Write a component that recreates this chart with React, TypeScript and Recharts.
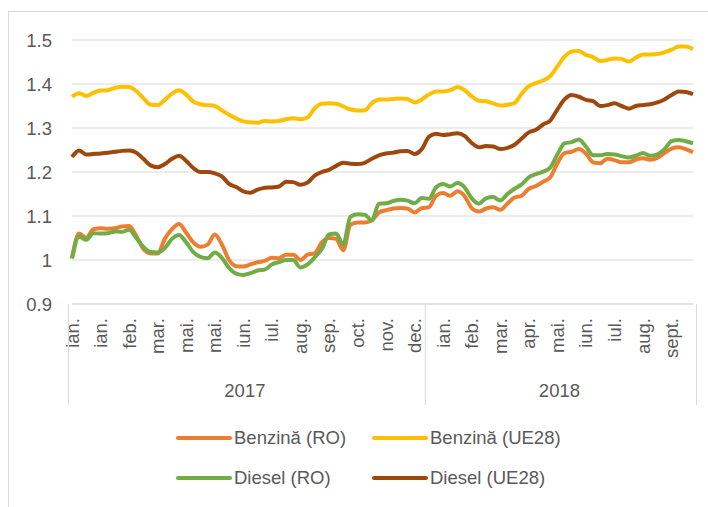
import React from 'react';
import { LineChart, Line, XAxis, YAxis, CartesianGrid, Legend } from 'recharts';

// ---------- data ----------
const months: string[] = [
  // 2017 (50 weeks)
  'ian.', 'ian.', 'ian.', 'ian.', 'ian.', 'ian.', 'ian.', 'ian.',
  'feb.', 'feb.', 'feb.', 'feb.',
  'mar.', 'mar.', 'mar.', 'mar.',
  'mai.', 'mai.', 'mai.', 'mai.', 'mai.', 'mai.', 'mai.', 'mai.',
  'iun.', 'iun.', 'iun.', 'iun.',
  'iul.', 'iul.', 'iul.', 'iul.',
  'aug.', 'aug.', 'aug.', 'aug.',
  'sep.', 'sep.', 'sep.', 'sep.',
  'oct.', 'oct.', 'oct.', 'oct.',
  'nov.', 'nov.', 'nov.', 'nov.',
  'dec.', 'dec.',
  // 2018 (38 weeks)
  'ian.', 'ian.', 'ian.', 'ian.', 'ian.', 'ian.',
  'feb.', 'feb.', 'feb.', 'feb.',
  'mar.', 'mar.', 'mar.', 'mar.',
  'apr.', 'apr.', 'apr.', 'apr.',
  'mai.', 'mai.', 'mai.', 'mai.',
  'iun.', 'iun.', 'iun.', 'iun.',
  'iul.', 'iul.', 'iul.', 'iul.',
  'aug.', 'aug.', 'aug.', 'aug.',
  'sept.', 'sept.', 'sept.', 'sept.',
];

const years: string[] = ['2017', '2018'];
const yearCounts: number[] = [50, 38];

const benzinaRO: number[] = [
  1.005, 1.06, 1.05, 1.07, 1.072, 1.071, 1.072, 1.076, 1.077, 1.055,
  1.025, 1.015, 1.015, 1.048, 1.07, 1.082, 1.062, 1.04, 1.03, 1.035,
  1.058, 1.035, 1.0, 0.986, 0.985, 0.99, 0.995, 0.998, 1.005, 1.004,
  1.012, 1.012, 1.0, 1.012, 1.015, 1.04, 1.05, 1.048, 1.022, 1.08,
  1.085, 1.085, 1.09, 1.108, 1.113, 1.117, 1.118, 1.117, 1.108, 1.118,
  1.12, 1.146, 1.152, 1.146, 1.156, 1.145, 1.118, 1.11, 1.117, 1.12,
  1.114, 1.128, 1.142, 1.146, 1.162, 1.168, 1.178, 1.188, 1.22, 1.243,
  1.246, 1.252, 1.242, 1.222, 1.22, 1.23, 1.227, 1.222, 1.222, 1.228,
  1.231, 1.228, 1.232, 1.243, 1.253, 1.256, 1.252, 1.245,
];

const benzinaUE: number[] = [
  1.371, 1.379, 1.373, 1.38, 1.385, 1.386, 1.391, 1.394, 1.393, 1.384,
  1.368, 1.353, 1.352, 1.364, 1.378, 1.386, 1.376, 1.36, 1.354, 1.352,
  1.35, 1.34, 1.33, 1.322, 1.315, 1.313, 1.312, 1.316, 1.315, 1.316,
  1.32, 1.322, 1.32, 1.324, 1.345, 1.355, 1.356, 1.355, 1.349, 1.342,
  1.34, 1.34, 1.356, 1.365, 1.365, 1.366, 1.367, 1.366, 1.358, 1.365,
  1.376, 1.383, 1.383, 1.386, 1.393, 1.386, 1.372, 1.362, 1.361, 1.356,
  1.351, 1.353, 1.357, 1.378, 1.395, 1.402, 1.408, 1.418, 1.44, 1.462,
  1.474, 1.475, 1.466, 1.461, 1.452, 1.455, 1.458, 1.457, 1.451, 1.46,
  1.467, 1.467, 1.468, 1.472, 1.478, 1.485, 1.485, 1.479,
];

const dieselRO: number[] = [
  1.003, 1.053, 1.046, 1.061, 1.06, 1.061, 1.065, 1.064, 1.069, 1.05,
  1.03, 1.018, 1.017, 1.027, 1.048, 1.057, 1.04, 1.018, 1.007, 1.004,
  1.017, 1.005, 0.982, 0.969, 0.966, 0.97, 0.976, 0.978, 0.99, 0.995,
  1.0, 1.0, 0.983, 0.99, 1.006, 1.025, 1.058, 1.06, 1.035, 1.098,
  1.104, 1.103, 1.09, 1.128, 1.129, 1.134, 1.137, 1.135, 1.129, 1.141,
  1.139, 1.165, 1.173, 1.167, 1.175, 1.165, 1.14, 1.128, 1.14, 1.143,
  1.135, 1.15, 1.162, 1.172, 1.188, 1.195, 1.201, 1.21, 1.24, 1.265,
  1.268, 1.274, 1.258, 1.238, 1.238, 1.241, 1.24, 1.236, 1.233, 1.237,
  1.243, 1.237, 1.24, 1.252, 1.27, 1.273, 1.27, 1.265,
];

const dieselUE: number[] = [
  1.234, 1.249, 1.24, 1.241, 1.242, 1.244, 1.246, 1.248, 1.249, 1.244,
  1.23, 1.215, 1.211, 1.218, 1.23, 1.237, 1.225, 1.209, 1.2, 1.2,
  1.197, 1.19, 1.173, 1.166, 1.156, 1.153, 1.16, 1.164, 1.165, 1.167,
  1.178, 1.177, 1.171, 1.176, 1.192, 1.2, 1.205, 1.214, 1.221, 1.219,
  1.218, 1.221, 1.23, 1.238, 1.242, 1.244, 1.247, 1.248, 1.241, 1.252,
  1.28, 1.287, 1.284, 1.286, 1.288, 1.282, 1.266, 1.256, 1.259, 1.258,
  1.252, 1.255, 1.262, 1.276, 1.29, 1.296, 1.308, 1.317, 1.342, 1.365,
  1.375, 1.371, 1.364, 1.361, 1.35, 1.352, 1.356, 1.35, 1.344, 1.35,
  1.352, 1.354, 1.358, 1.365, 1.375, 1.383, 1.382, 1.377,
];

const yTicks: number[] = [0.9, 1.0, 1.1, 1.2, 1.3, 1.4, 1.5];

const seriesNames: string[] = ['Benzină (RO)', 'Benzină (UE28)', 'Diesel (RO)', 'Diesel (UE28)'];
const seriesKeys: string[] = ['bRO', 'bUE', 'dRO', 'dUE'];
const seriesColors: string[] = ['#ED7D31', '#FFC000', '#70AD47', '#9E480E'];

// ---------- build table ----------
const yearOf: string[] = [];
const yearStart: Record<number, { year: string; count: number }> = {};
{
  let s = 0;
  years.forEach((y, k) => {
    yearStart[s] = { year: y, count: yearCounts[k] };
    for (let i = 0; i < yearCounts[k]; i++) yearOf.push(y);
    s += yearCounts[k];
  });
}

const data = months.map((m, i) => ({
  month: m,
  year: yearOf[i],
  bRO: benzinaRO[i],
  bUE: benzinaUE[i],
  dRO: dieselRO[i],
  dUE: dieselUE[i],
}));

// ---------- layout ----------
const CHART_W = 699;
const CHART_H = 495;
const Y_AXIS_W = 63;
const M_RIGHT = 15;
const M_TOP = 28;
const X_AXIS_H = 105;
const LEGEND_H = 98;
const N = data.length;
const BW = (CHART_W - Y_AXIS_W - M_RIGHT) / N;

const FONT = '"Liberation Sans", Arial, sans-serif';
const TEXT = '#595959';
const GRID = '#D9D9D9';
const FS = 18.5;
const LFS = 18.5;

const fmt = (v: number) => String(Number(v.toFixed(1)));

const MonthTick = (props: any) => {
  const { x, y, payload, index } = props;
  const i: number = typeof index === 'number' ? index : payload.index;
  const parts: React.ReactNode[] = [];
  if (i % 4 === 0) {
    const ty = y + 14;
    parts.push(
      <text
        key="m"
        x={x}
        y={ty}
        transform={`rotate(-90 ${x} ${ty})`}
        textAnchor="end"
        dominantBaseline="central"
        fill={TEXT}
        fontSize={FS}
        fontFamily={FONT}
      >
        {payload.value}
      </text>
    );
  }
  const grp = yearStart[i];
  if (grp) {
    const left = x - BW / 2;
    parts.push(<line key="s" x1={left} x2={left} y1={y} y2={y + 101} stroke={GRID} strokeWidth={1} />);
    parts.push(
      <text
        key="y"
        x={left + (grp.count * BW) / 2}
        y={y + 86}
        textAnchor="middle"
        dominantBaseline="central"
        fill={TEXT}
        fontSize={FS}
        fontFamily={FONT}
      >
        {grp.year}
      </text>
    );
  }
  if (i === N - 1) {
    const right = x + BW / 2;
    parts.push(<line key="e" x1={right} x2={right} y1={y} y2={y + 101} stroke={GRID} strokeWidth={1} />);
  }
  return <g>{parts}</g>;
};

const LegendContent = () => (
  <div
    style={{
      height: LEGEND_H,
      boxSizing: 'border-box',
      paddingTop: 9,
      paddingLeft: 166,
      display: 'grid',
      gridTemplateColumns: '196px 196px',
      gridAutoRows: '40px',
      fontFamily: FONT,
      fontSize: LFS,
      color: TEXT,
    }}
  >
    {seriesNames.map((name, k) => (
      <div key={name} style={{ display: 'flex', alignItems: 'center', whiteSpace: 'nowrap' }}>
        <svg width={58} height={8} style={{ display: 'block' }}>
          <line x1={3} x2={55} y1={4} y2={4} stroke={seriesColors[k]} strokeWidth={4} strokeLinecap="round" />
        </svg>
        <span style={{ marginLeft: 1 }}>{name}</span>
      </div>
    ))}
  </div>
);

export default function App() {
  return (
    <div
      style={{
        position: 'fixed',
        left: 8,
        top: 11,
        width: 700,
        height: 496,
        boxSizing: 'border-box',
        borderLeft: `1px solid ${GRID}`,
        borderTop: `1px solid ${GRID}`,
        background: '#fff',
      }}
    >
      <LineChart
        width={CHART_W}
        height={CHART_H}
        data={data}
        margin={{ top: M_TOP, right: M_RIGHT, left: 0, bottom: 0 }}
      >
        <CartesianGrid vertical={false} stroke={GRID} strokeWidth={1} />
        <XAxis
          dataKey="month"
          interval={0}
          height={X_AXIS_H}
          tickSize={0}
          tickMargin={0}
          tickLine={false}
          axisLine={{ stroke: GRID }}
          tick={(p: any) => <MonthTick {...p} />}
        />
        <YAxis
          domain={[0.9, 1.5]}
          ticks={yTicks}
          width={Y_AXIS_W}
          axisLine={false}
          tickLine={false}
          tickSize={0}
          tickMargin={20}
          tickFormatter={fmt}
          tick={{ fill: TEXT, fontSize: FS, fontFamily: FONT }}
        />
        <Legend
          verticalAlign="bottom"
          content={() => <LegendContent />}
          wrapperStyle={{ left: 0, width: CHART_W, bottom: 0 }}
        />
        {seriesKeys.map((k, idx) => (
          <Line
            key={k}
            type="monotone"
            dataKey={k}
            name={seriesNames[idx]}
            stroke={seriesColors[idx]}
            strokeWidth={4}
            dot={false}
            activeDot={false}
            isAnimationActive={false}
          />
        ))}
      </LineChart>
    </div>
  );
}
